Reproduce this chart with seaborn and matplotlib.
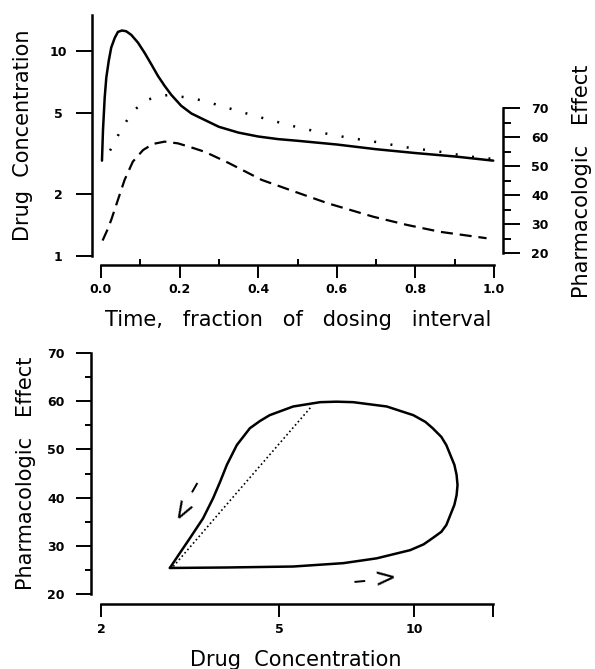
import matplotlib
matplotlib.use("Agg")
import matplotlib.pyplot as plt
import seaborn as sns
from matplotlib.ticker import FixedLocator, NullLocator

# top panel: time course over one dosing interval
plasma_t = [0.0025, 0.005, 0.0094, 0.0135, 0.0196, 0.026, 0.035, 0.043, 0.053,
            0.064, 0.077, 0.094, 0.111, 0.128, 0.145, 0.162, 0.179, 0.204, 0.230,
            0.255, 0.30, 0.35, 0.40, 0.45, 0.50, 0.60, 0.70, 0.80, 0.90, 0.998]
plasma_conc = [2.92, 4.09, 5.93, 7.42, 8.94, 10.4, 11.6, 12.4, 12.6,
               12.5, 12.0, 11.0, 9.8, 8.62, 7.56, 6.76, 6.11, 5.41, 4.96,
               4.70, 4.27, 4.00, 3.83, 3.72, 3.65, 3.50, 3.32, 3.18, 3.06, 2.92]

site_t = [0.023, 0.039, 0.053, 0.070, 0.088, 0.111, 0.141, 0.172, 0.201, 0.235,
          0.265, 0.324, 0.383, 0.443, 0.502, 0.566, 0.625, 0.689, 0.778, 0.871,
          0.930, 0.994]
site_conc = [3.27, 3.73, 4.21, 4.71, 5.21, 5.72, 5.98, 6.11, 6.00, 5.87,
             5.69, 5.27, 4.88, 4.54, 4.24, 3.98, 3.79, 3.63, 3.39, 3.21,
             3.07, 2.98]

effect_t = [0.004, 0.016, 0.026, 0.043, 0.060, 0.081, 0.107, 0.132, 0.162, 0.196,
            0.230, 0.264, 0.324, 0.409, 0.494, 0.578, 0.693, 0.778, 0.863, 0.981]
effect = [24.3, 27.9, 31.4, 38.3, 45.2, 51.5, 55.5, 57.6, 58.4, 57.8,
          56.4, 54.9, 51.1, 45.2, 41.1, 37.1, 32.5, 29.7, 27.3, 25.1]

# bottom panel: effect vs concentration (hysteresis loop)
loop_conc = [2.85, 3.82, 5.37, 6.95, 8.25, 9.8, 10.5, 11.0, 11.5, 11.8, 12.3,
             12.44, 12.5, 12.44, 12.3, 11.8, 11.5, 11.0, 10.6, 9.96, 8.69, 7.31,
             6.71, 6.17, 5.37, 4.76, 4.53, 4.30, 4.02, 3.82, 3.69, 3.56, 3.38,
             3.16, 2.98, 2.85]
loop_effect = [25.4, 25.5, 25.7, 26.4, 27.4, 29.1, 30.3, 31.6, 32.9, 34.3, 38.5,
               40.5, 42.6, 44.7, 46.8, 50.9, 52.6, 54.4, 55.7, 57.1, 58.9, 59.8,
               59.9, 59.8, 58.9, 57.1, 55.9, 54.4, 50.9, 46.8, 43.3, 39.9, 35.7,
               31.6, 28.1, 25.4]
site_loop_conc = [2.90, 3.41, 4.08, 5.90]
site_loop_effect = [25.7, 33.3, 41.7, 58.9]

sns.set_style("ticks", {"axes.edgecolor": "black", "text.color": "black",
                        "xtick.color": "black", "ytick.color": "black",
                        "axes.labelcolor": "black"})
plt.rcParams["font.family"] = ["DejaVu Sans"]

W, H = 595, 669
fig = plt.figure(figsize=(W / 100, H / 100), dpi=100)

# ---- top panel ----
ax1 = fig.add_axes([92 / W, 1 - 256 / H, 411 / W, 241 / H])
ax2 = ax1.twinx()

sns.lineplot(x=plasma_t, y=plasma_conc, ax=ax1, color="black", lw=1.8,
             sort=False, estimator=None)
sns.lineplot(x=site_t, y=site_conc, ax=ax1, color="black", lw=1.8,
             sort=False, estimator=None, linestyle=(0, (0.8, 5.8)))
sns.lineplot(x=effect_t, y=effect, ax=ax2, color="black", lw=1.6,
             sort=False, estimator=None, linestyle=(0, (5.4, 3.1)))

ax1.set_yscale("log")
ax1.set_ylim(1, 15)
ax1.set_xlim(-9 / 393, 1 + 9 / 393)
ax2.set_ylim(20 - 3 / 2.9, 70 + 93 / 2.9)

for s in ["top", "right"]:
    ax1.spines[s].set_visible(False)
for s in ["top", "left", "bottom"]:
    ax2.spines[s].set_visible(False)
ax1.spines["bottom"].set_position(("outward", 6.5))
ax1.spines["bottom"].set_bounds(0, 1)
ax2.spines["right"].set_bounds(20, 70)
for sp in list(ax1.spines.values()) + list(ax2.spines.values()):
    sp.set_linewidth(1.8)

ax1.yaxis.set_major_locator(FixedLocator([1, 2, 5, 10]))
ax1.yaxis.set_minor_locator(NullLocator())
ax1.set_yticklabels(["1", "2", "5", "10"])
ax1.tick_params(axis="y", which="major", direction="out", length=11.5,
                width=1.4, pad=13, labelsize=9)
for lbl in ax1.get_yticklabels():
    lbl.set_horizontalalignment("center")
    lbl.set_fontweight("bold")

ax1.set_xticks([0, 0.2, 0.4, 0.6, 0.8, 1.0])
ax1.set_xticklabels(["0.0", "0.2", "0.4", "0.6", "0.8", "1.0"], fontweight="bold")
ax1.set_xticks([0.1, 0.3, 0.5, 0.7, 0.9], minor=True)
ax1.tick_params(axis="x", which="major", direction="out", length=9,
                width=1.4, pad=4, labelsize=9)
ax1.tick_params(axis="x", which="minor", direction="in", length=4, width=1.4)

ax2.set_yticks([20, 30, 40, 50, 60, 70])
ax2.set_yticklabels(["20", "30", "40", "50", "60", "70"], fontweight="bold")
ax2.set_yticks([25, 35, 45, 55, 65], minor=True)
ax2.tick_params(axis="y", which="major", direction="out", length=12.5,
                width=1.4, pad=8, labelsize=9)
ax2.tick_params(axis="y", which="minor", direction="out", length=5.8, width=1.4)

ax1.set_ylabel("Drug  Concentration", fontsize=15)
ax1.yaxis.set_label_coords(-0.143, 0.5)
ax1.set_xlabel("Time,   fraction   of   dosing   interval", fontsize=15)
ax1.xaxis.set_label_coords(0.501, -0.222)
ax2.set_ylabel("Pharmacologic   Effect", fontsize=15)
ax2.yaxis.set_label_coords(1.168, 0.311)

# ---- bottom panel ----
ax3 = fig.add_axes([91 / W, 1 - 594 / H, 402 / W, 241 / H])
sns.lineplot(x=loop_conc, y=loop_effect, ax=ax3, color="black", lw=1.8,
             sort=False, estimator=None)
sns.lineplot(x=site_loop_conc, y=site_loop_effect, ax=ax3, color="black", lw=1.2,
             sort=False, estimator=None, linestyle=(0, (1, 1.6)))

ax3.set_xscale("log")
ax3.set_xlim(1.9, 15)
ax3.set_ylim(20, 70)
for s in ["top", "right"]:
    ax3.spines[s].set_visible(False)
ax3.spines["bottom"].set_position(("outward", 7.2))
ax3.spines["bottom"].set_bounds(2, 15)
for sp in ax3.spines.values():
    sp.set_linewidth(1.8)

ax3.xaxis.set_major_locator(FixedLocator([2, 5, 10, 15]))
ax3.xaxis.set_minor_locator(NullLocator())
ax3.set_xticklabels(["2", "5", "10", ""], fontweight="bold")
ax3.tick_params(axis="x", which="major", direction="out", length=9.4,
                width=1.4, pad=4, labelsize=9)
ax3.set_yticks([20, 30, 40, 50, 60, 70])
ax3.set_yticklabels(["20", "30", "40", "50", "60", "70"], fontweight="bold")
ax3.set_yticks([25, 35, 45, 55, 65], minor=True)
ax3.tick_params(axis="y", which="major", direction="out", length=10.8,
                width=1.4, pad=8, labelsize=9)
ax3.tick_params(axis="y", which="minor", direction="out", length=4.3, width=1.4)

ax3.set_ylabel("Pharmacologic   Effect", fontsize=15)
ax3.yaxis.set_label_coords(-0.138, 0.5)
ax3.set_xlabel("Drug  Concentration", fontsize=15)
ax3.xaxis.set_label_coords(0.51, -0.232)

# direction arrows
ax3.text(8.18, 22.8, "\u2013 >", fontsize=19, rotation=5, ha="center",
         va="center", color="black")
ax3.text(3.10, 39.7, "\u2013 >", fontsize=19, rotation=240, ha="center",
         va="center", color="black")

fig.savefig("out.png", dpi=100)
